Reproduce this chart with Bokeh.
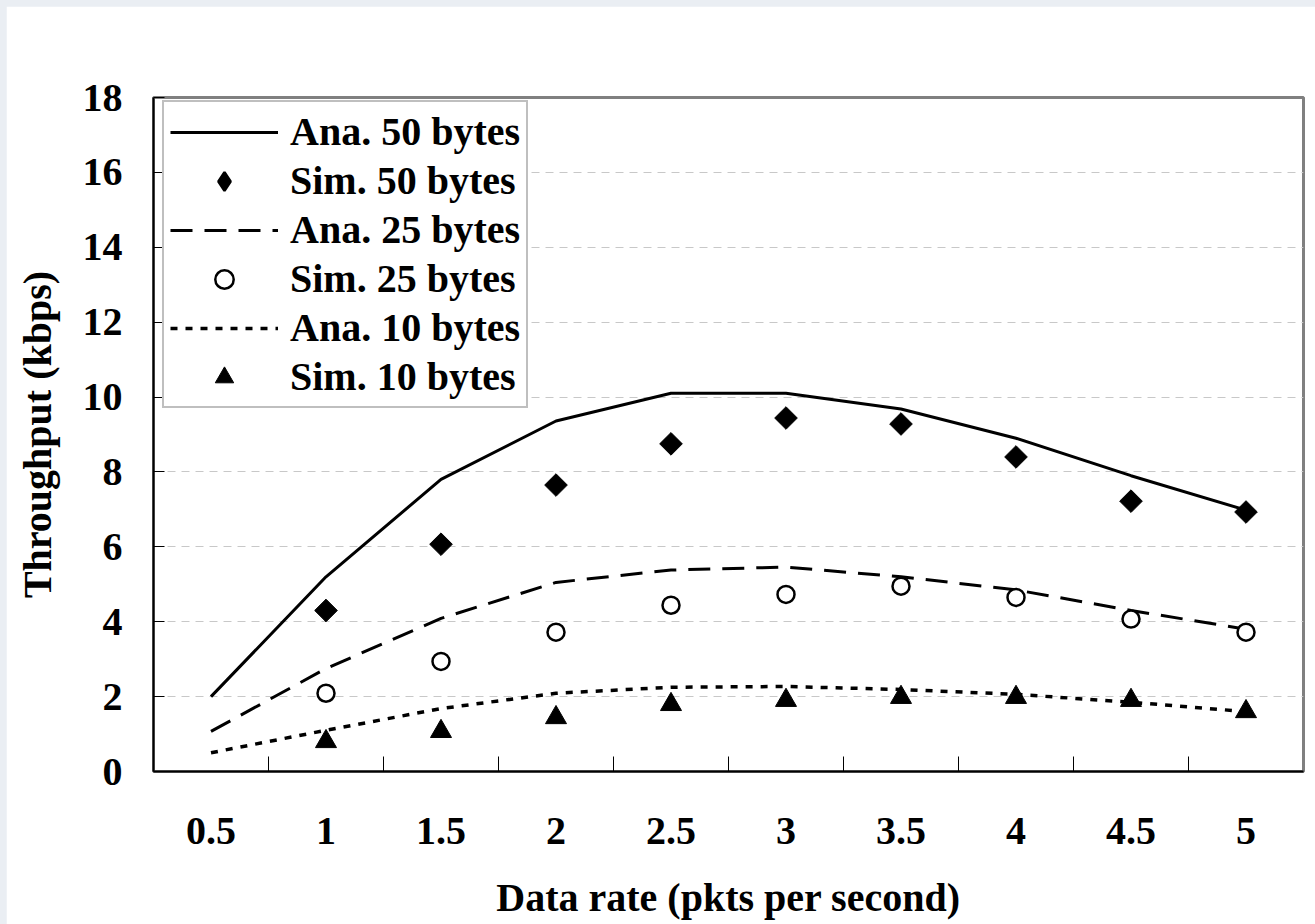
import numpy as np
from bokeh.plotting import figure
from bokeh.models import (Range1d, FixedTicker, CustomJSTickFormatter, Legend, LegendItem)
from bokeh.embed import file_html
from bokeh.resources import INLINE

# ---- data ----
rates = [0.5, 1, 1.5, 2, 2.5, 3, 3.5, 4, 4.5, 5]
ana50 = [2.0, 5.2, 7.8, 9.36, 10.1, 10.1, 9.68, 8.9, 7.9, 6.98]
sim_rates = [1, 1.5, 2, 2.5, 3, 3.5, 4, 4.5, 5]
sim50 = [4.3, 6.07, 7.65, 8.75, 9.44, 9.28, 8.4, 7.22, 6.93]
ana25 = [1.07, 2.75, 4.09, 5.05, 5.38, 5.46, 5.2, 4.85, 4.3, 3.8]
sim25 = [2.09, 2.94, 3.72, 4.44, 4.73, 4.95, 4.65, 4.07, 3.72]
ana10 = [0.5, 1.1, 1.68, 2.09, 2.25, 2.27, 2.19, 2.06, 1.85, 1.6]
sim10 = [0.8, 1.07, 1.44, 1.79, 1.9, 1.98, 1.98, 1.9, 1.6]
y_ticks = [0, 2, 4, 6, 8, 10, 12, 14, 16, 18]
cat_edges = [0.75, 1.25, 1.75, 2.25, 2.75, 3.25, 3.75, 4.25, 4.75]

FONT = "Liberation Serif"
FS = "40px"

p = figure(width=1309, height=918, output_backend="svg", toolbar_location=None,
           x_range=Range1d(0.25, 5.25), y_range=Range1d(0, 18),
           min_border_left=147, min_border_right=12, min_border_top=91, min_border_bottom=153)
p.background_fill_color = "white"
p.border_fill_color = "white"
p.outline_line_color = "#808080"
p.outline_line_width = 3

# axes
xa = p.xaxis[0]
xa.ticker = FixedTicker(ticks=rates, minor_ticks=cat_edges)
xa.formatter = CustomJSTickFormatter(code="return tick.toString();")
xa.major_tick_in = 0
xa.major_tick_out = 0
xa.minor_tick_in = 15
xa.minor_tick_out = 0
xa.minor_tick_line_color = "black"
xa.minor_tick_line_width = 1
xa.axis_line_color = "black"
xa.axis_line_width = 2
xa.major_label_standoff = 46
xa.axis_label = "Data rate (pkts per second)"
xa.axis_label_standoff = 28

ya = p.yaxis[0]
ya.ticker = FixedTicker(ticks=y_ticks)
ya.major_tick_in = 11
ya.major_tick_out = 0
ya.minor_tick_in = 0
ya.minor_tick_out = 0
ya.major_tick_line_color = "black"
ya.axis_line_color = "black"
ya.axis_line_width = 2
ya.major_label_standoff = 31
ya.axis_label = "Throughput (kbps)"
ya.axis_label_standoff = 20

for ax in (xa, ya):
    ax.major_label_text_font = FONT
    ax.major_label_text_font_style = "bold"
    ax.major_label_text_font_size = FS
    ax.major_label_text_color = "black"
    ax.axis_label_text_font = FONT
    ax.axis_label_text_font_style = "bold"
    ax.axis_label_text_font_size = FS
    ax.axis_label_text_color = "black"

p.xgrid.visible = False
p.ygrid.ticker = FixedTicker(ticks=y_ticks[1:-1])
p.ygrid.grid_line_color = "#c8c8c8"
p.ygrid.grid_line_dash = "8 6"
p.ygrid.grid_line_width = 1

# series
r_a50 = p.line(rates, ana50, line_color="black", line_width=3)
r_s50 = p.scatter(sim_rates, sim50, marker="square", angle=np.pi / 4, size=16,
                  fill_color="black", line_color="black")
r_a25 = p.line(rates, ana25, line_color="black", line_width=3, line_dash="22 12")
r_s25 = p.scatter(sim_rates, sim25, marker="circle", size=17, fill_color="white",
                  line_color="black", line_width=2.5)
r_a10 = p.line(rates, ana10, line_color="black", line_width=3.5, line_dash="7 8")
r_s10 = p.scatter(sim_rates, sim10, marker="triangle", size=21,
                  fill_color="black", line_color="black")
# legend proxy for the diamond symbol (legend glyphs ignore marker angle)
r_s50_key = p.scatter([-10], [-10], marker="diamond", size=16,
                      fill_color="black", line_color="black", line_width=2.5)

legend = Legend(items=[
    LegendItem(label="Ana. 50 bytes", renderers=[r_a50]),
    LegendItem(label="Sim. 50 bytes", renderers=[r_s50_key]),
    LegendItem(label="Ana. 25 bytes", renderers=[r_a25]),
    LegendItem(label="Sim. 25 bytes", renderers=[r_s25]),
    LegendItem(label="Ana. 10 bytes", renderers=[r_a10]),
    LegendItem(label="Sim. 10 bytes", renderers=[r_s10]),
], location=(9, 363))
legend.label_text_font = FONT
legend.label_text_font_style = "bold"
legend.label_text_font_size = FS
legend.label_text_color = "black"
legend.glyph_width = 108
legend.glyph_height = 46
legend.label_height = 46
legend.label_standoff = 12
legend.spacing = 2
legend.padding = 6
legend.margin = 0
legend.border_line_color = "#808080"
legend.border_line_width = 2
legend.background_fill_color = "white"
legend.background_fill_alpha = 1
p.add_layout(legend, "center")

html = file_html(p, INLINE)
css = "<style>html, body { background-color: #eaeef3 !important; } body { padding: 6px 0 0 6px !important; }</style>"
html = html.replace("</head>", css + "\n</head>", 1)
open("out.html", "w").write(html)
